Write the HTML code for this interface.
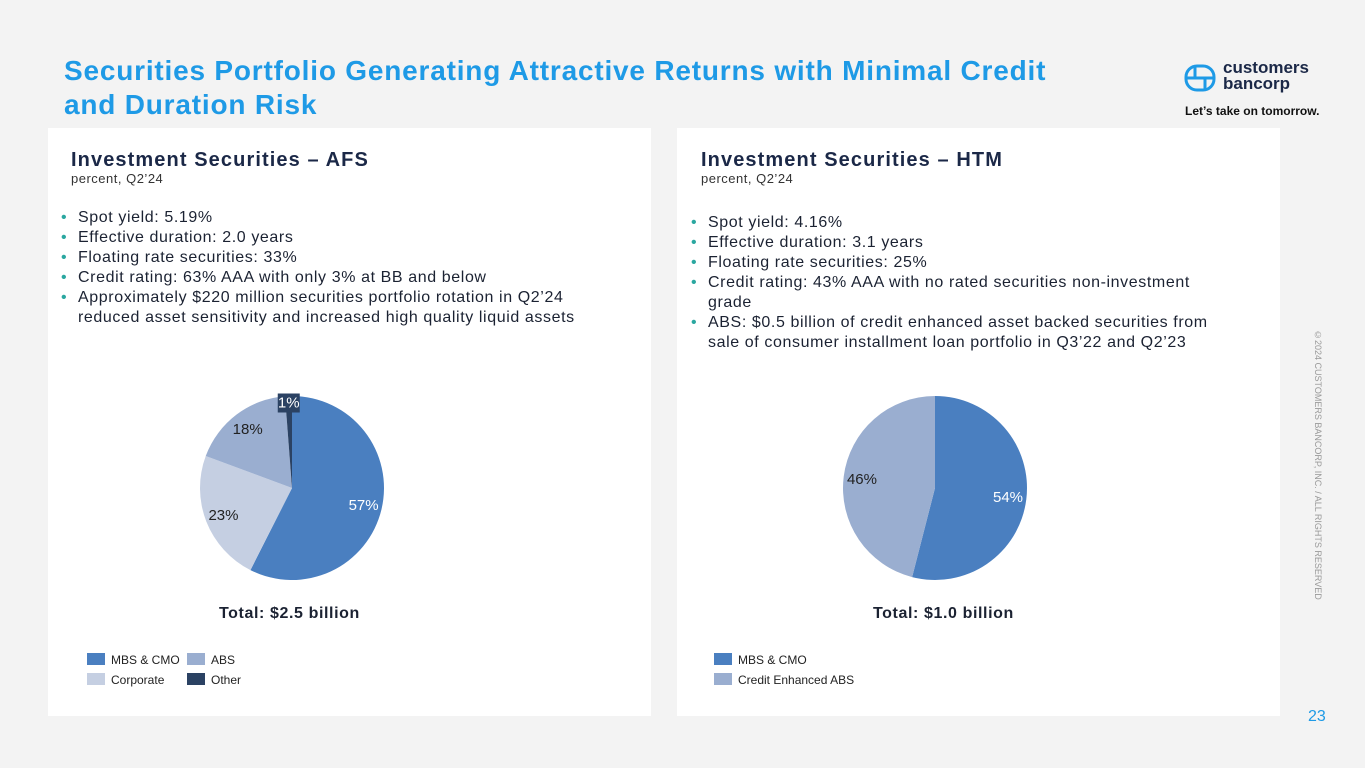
<!DOCTYPE html>
<html><head><meta charset="utf-8">
<style>
body{margin:0;width:1365px;height:768px;background:#f3f3f3;font-family:"Liberation Sans",sans-serif;position:relative;overflow:hidden}
.abs{position:absolute}
.title{left:64px;top:54px;font-size:28px;line-height:34px;color:#1e9ae6;font-weight:bold;letter-spacing:0.8px;white-space:nowrap}
.card{background:#fff;top:128px;height:588px;width:603px}
.h{font-size:20px;font-weight:bold;color:#1b2847;letter-spacing:1.1px}
.sub{font-size:13px;color:#333;letter-spacing:0.5px}
ul{margin:0;padding:0;list-style:none;font-size:16px;line-height:20px;color:#1b2232;letter-spacing:0.6px}
li{position:relative;padding-left:17px}
li:before{content:"•";color:#2aa7a0;position:absolute;left:0}
.tot{font-size:16px;font-weight:bold;color:#1b2232;letter-spacing:0.6px}
.leg{font-size:12px;color:#222}
.sw{display:inline-block;width:18px;height:12px;vertical-align:-1px;margin-right:6px}
</style></head><body>
<div class="abs title">Securities Portfolio Generating Attractive Returns with Minimal Credit<br>and Duration Risk</div>
<div class="abs" style="left:1184px;top:63px">
<svg width="32" height="30" viewBox="0 0 32 30"><rect x="2" y="3" width="28" height="24" rx="11" fill="none" stroke="#1e9ae6" stroke-width="3"/><line x1="2" y1="15" x2="30" y2="15" stroke="#1e9ae6" stroke-width="3"/><line x1="11" y1="4" x2="11" y2="15" stroke="#1e9ae6" stroke-width="3"/><line x1="21" y1="15" x2="21" y2="26" stroke="#1e9ae6" stroke-width="3"/></svg>
</div>
<div class="abs" style="left:1223px;top:60px;font-size:17px;line-height:16px;font-weight:bold;color:#1b2847">customers<br>bancorp</div>
<div class="abs" style="left:1185px;top:104px;font-size:12px;font-weight:bold;color:#111">Let’s take on tomorrow.</div>
<div class="abs" style="left:1313px;top:330px;writing-mode:vertical-rl;font-size:9px;color:#999">©2024 CUSTOMERS BANCORP, INC. / ALL RIGHTS RESERVED</div>
<div class="abs" style="left:1308px;top:708px;font-size:16px;color:#1e9ae6">23</div>

<div class="abs card" style="left:48px"></div>
<div class="abs card" style="left:677px"></div>

<div class="abs h" style="left:71px;top:149px">Investment Securities – AFS</div>
<div class="abs sub" style="left:71px;top:171px">percent, Q2’24</div>
<ul class="abs" style="left:61px;top:208px;width:560px">
<li>Spot yield: 5.19%</li><li>Effective duration: 2.0 years</li><li>Floating rate securities: 33%</li><li>Credit rating: 63% AAA with only 3% at BB and below</li><li>Approximately $220 million securities portfolio rotation in Q2’24 reduced asset sensitivity and increased high quality liquid assets</li></ul>

<div class="abs h" style="left:701px;top:149px">Investment Securities – HTM</div>
<div class="abs sub" style="left:701px;top:171px">percent, Q2’24</div>
<ul class="abs" style="left:691px;top:213px;width:540px">
<li>Spot yield: 4.16%</li><li>Effective duration: 3.1 years</li><li>Floating rate securities: 25%</li><li>Credit rating: 43% AAA with no rated securities non-investment grade</li><li>ABS: $0.5 billion of credit enhanced asset backed securities from sale of consumer installment loan portfolio in Q3’22 and Q2’23</li></ul>

<svg class="abs" style="left:0;top:0" width="1365" height="768" id="charts"></svg>

<div class="abs tot" style="left:219px;top:605px">Total: $2.5 billion</div>
<div class="abs tot" style="left:873px;top:605px">Total: $1.0 billion</div>

<div class="abs leg" style="left:87px;top:650px;line-height:20px">
<div><span style="display:inline-block;width:100px"><span class="sw" style="background:#4a7fc0"></span>MBS &amp; CMO</span><span><span class="sw" style="background:#9aaed0"></span>ABS</span></div>
<div><span style="display:inline-block;width:100px"><span class="sw" style="background:#c5cfe2"></span>Corporate</span><span><span class="sw" style="background:#2b4263"></span>Other</span></div>
</div>
<div class="abs leg" style="left:714px;top:650px;line-height:20px">
<div><span class="sw" style="background:#4a7fc0"></span>MBS &amp; CMO</div>
<div><span class="sw" style="background:#9aaed0"></span>Credit Enhanced ABS</div>
</div>

<script>
const afsCategories=["MBS & CMO","Corporate","ABS","Other"];
const afsValues=[57,23,18,1.2];
const afsLabels=["57%","23%","18%","1%"];
const afsColors=["#4a7fc0","#c5cfe2","#9aaed0","#2b4263"];
const htmCategories=["MBS & CMO","Credit Enhanced ABS"];
const htmValues=[54,46];
const htmLabels=["54%","46%"];
const htmColors=["#4a7fc0","#9aaed0"];
const NS="http://www.w3.org/2000/svg";
const svg=document.getElementById('charts');
function pie(cx,cy,r,vals,labels,colors,cats,prefix,lblColors){
  const tot=vals.reduce((a,b)=>a+b,0);let a0=0;
  vals.forEach((v,i)=>{
    const a1=a0+v/tot*2*Math.PI;
    const p=(a)=>[cx+r*Math.sin(a),cy-r*Math.cos(a)];
    const [x0,y0]=p(a0),[x1,y1]=p(a1);
    const path=document.createElementNS(NS,'path');
    path.setAttribute('d',`M${cx},${cy}L${x0},${y0}A${r},${r} 0 ${a1-a0>Math.PI?1:0} 1 ${x1},${y1}Z`);
    path.setAttribute('fill',colors[i]);
    
    
    svg.appendChild(path);
    const am=(a0+a1)/2;const small=v/tot<0.05;const lr=small?r*0.93:r*0.8;
    const lx=cx+lr*Math.sin(am),ly=cy-lr*Math.cos(am);
    if(small){const bg=document.createElementNS(NS,'rect');bg.setAttribute('x',lx-11);bg.setAttribute('y',ly-9);bg.setAttribute('width',22);bg.setAttribute('height',19);bg.setAttribute('fill',colors[i]);
      
      
      svg.appendChild(bg);}
    const t=document.createElementNS(NS,'text');
    t.setAttribute('x',lx);t.setAttribute('y',ly+5);t.setAttribute('text-anchor','middle');
    t.setAttribute('font-size','15');t.setAttribute('font-family','Liberation Sans, sans-serif');
    t.setAttribute('fill',lblColors[i]);t.textContent=labels[i];
    
    
    svg.appendChild(t);
    a0=a1;
  });
}
pie(292,488,92,afsValues,afsLabels,afsColors,afsCategories,'afs',["#fff","#222","#222","#fff"]);
pie(935,488,92,htmValues,htmLabels,htmColors,htmCategories,'htm',["#fff","#222"]);
</script>
</body></html>
